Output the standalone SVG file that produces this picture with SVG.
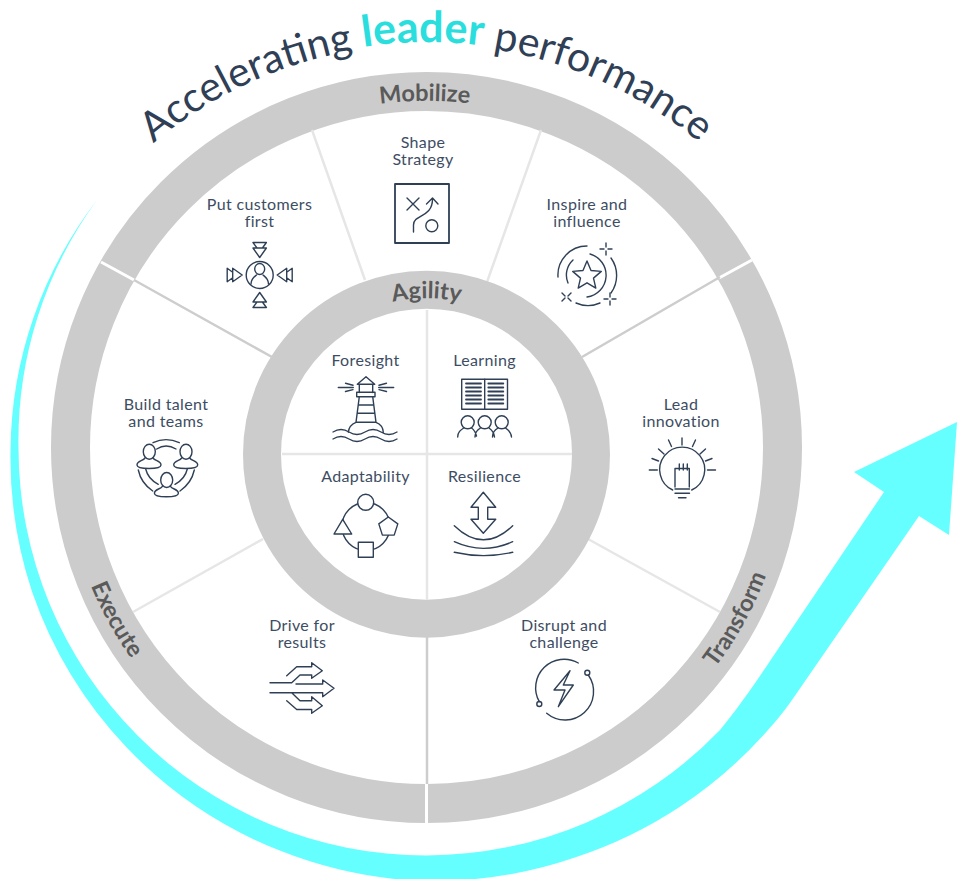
<svg xmlns="http://www.w3.org/2000/svg" xmlns:xlink="http://www.w3.org/1999/xlink" width="968" height="879" viewBox="0 0 968 879">
<style>
text{font-family:"Lato","Liberation Sans",sans-serif}
.l{font-size:16px;fill:#3d4d63;text-anchor:middle;letter-spacing:.35px}
.r{font-size:23.500px;font-weight:700;fill:#5a5a5a;text-anchor:middle}
.i{fill:none;stroke:#2f4056;stroke-width:1.4;stroke-linecap:round;stroke-linejoin:round}
.w{fill:#fff}
.sp1{stroke:#e6e6e6;stroke-width:2.5;fill:none}
.sp2{stroke:#cdcdcd;stroke-width:2.5;fill:none}
.gap{stroke:#fff;stroke-width:3;fill:none}
</style>
<defs>
<path id="pT" d="M147.500 148.500A426 426 0 0 1 753.300 196.200"/>
<path id="pM" d="M253 147.400A346.500 346.500 0 0 1 600 147.400"/>
<path id="pA" d="M348.500 319.100A156 156 0 0 1 504.500 319.100"/>
<path id="pTr" d="M613.500 758.600A363 363 0 0 0 789.400 441.200"/>
<path id="pE" d="M63.600 441.200A363 363 0 0 0 239.500 758.600"/>
<path id="ch" d="M253 242.500h13.400l-4 5.500h4l-6.700 9.500-6.700-9.500h4zM257 248h5.400"/>
</defs>
<rect width="968" height="879" fill="#fff"/>
<g id="arrow"><path fill="#66ffff" d="M97 200A416 416 0 0 0 10.500 450A425 425 0 0 0 31.800 591A430 430 0 0 0 126.700 747.500A430 430 0 0 0 279.800 850.600A436 436 0 0 0 405 880A436 436 0 0 0 575.600 857.200A440 440 0 0 0 768 730C776 721 785 710 792 700L919 516L949 535L957 422L854 472L884 492L772 658C756 682 738 708 720 730A408 408 0 0 1 426.500 855.500A408 408 0 0 1 18.500 447.500A408 408 0 0 1 97 200Z"/></g>
<g id="title"><text font-size="41" fill="#2f4056"><textPath xlink:href="#pT" href="#pT" startOffset="8">Accelerating <tspan dy="-2" font-size="43" font-weight="700" fill="#2bdede">leader</tspan><tspan dy="2"> performance</tspan></textPath></text></g>
<g id="outer-ring"><circle cx="426.500" cy="447.500" r="356" fill="none" stroke="#cccccc" stroke-width="39"/></g>
<g id="connectors">
<path class="gap" d="M101 262L134 280M752 260L719 278M426.500 784V823"/>
<path class="sp1" d="M312 130L365 280M541 130L487 282M720 612L588 539M133 612L263 539"/>
<path class="sp2" d="M720 277L582 357M134 280L272 357M427 637V784"/>
</g>
<g id="inner-ring">
<circle cx="426.500" cy="454.200" r="164.500" fill="none" stroke="#cccccc" stroke-width="38"/>
<path class="sp1" d="M427 310V600M282 454H572" stroke="#e0e0e0"/>
</g>
<g id="mobilize"><text class="r"><textPath xlink:href="#pM" href="#pM" startOffset="49.500%">Mobilize</textPath></text></g>
<g id="agility"><text class="r"><textPath xlink:href="#pA" href="#pA" startOffset="50%">Agility</textPath></text></g>
<g id="transform"><text class="r"><textPath xlink:href="#pTr" href="#pTr" startOffset="50%">Transform</textPath></text></g>
<g id="execute"><text class="r"><textPath xlink:href="#pE" href="#pE" startOffset="50%">Execute</textPath></text></g>

<g id="shape-strategy">
<text class="l" x="423" y="148">Shape</text><text class="l" x="423" y="165">Strategy</text>
<g class="i"><rect x="395" y="184" width="54" height="59" stroke-width="1.800"/><path d="M407 198l12 12M419 198l-12 12M413.500 232V225C413.500 214 432.500 218 432.500 199M426.500 204L432.500 198L438 204"/><circle cx="431.800" cy="225.700" r="6"/></g>
</g>
<g id="put-customers-first">
<text class="l" x="259.500" y="210">Put customers</text><text class="l" x="259.500" y="227">first</text>
<g class="i"><circle cx="259.700" cy="275" r="13.500"/><ellipse cx="259.700" cy="269" rx="5" ry="5.500"/><path d="M251 284c0-5 3-7 5.500-9M268.500 284c0-5-3-7-5.500-9"/>
<use href="#ch" xlink:href="#ch"/><use href="#ch" xlink:href="#ch" transform="rotate(90 259.700 275)"/><use href="#ch" xlink:href="#ch" transform="rotate(180 259.700 275)"/><use href="#ch" xlink:href="#ch" transform="rotate(270 259.700 275)"/></g>
</g>
<g id="inspire-and-influence">
<text class="l" x="587" y="210">Inspire and</text><text class="l" x="587" y="227">influence</text>
<g class="i"><path d="M587 246A29 29 0 0 0 558 277M573 260A20.500 20.500 0 0 0 568 283M590 254A22 22 0 0 1 587 297M611 258A30 30 0 0 1 611 293M576 303A30 30 0 0 0 600 303"/>
<path d="M587 261L591 270.500L601.300 271.400L593.500 278.100L595.800 288.100L587 282.800L578.200 288.100L580.500 278.100L572.700 271.400L583 270.500Z"/>
<path d="M606 243v4M606 251v4M600 249h4M608 249h4M610 293v4M610 301v4M604 299h4M612 299h4M562 293l3 3M562 301l3-3M571 293l-3 3M571 301l-3-3"/></g>
</g>
<g id="lead-innovation">
<text class="l" x="681" y="410">Lead</text><text class="l" x="681" y="427">innovation</text>
<g class="i"><path d="M672.700 490A22.500 22.500 0 1 1 691.700 490M675 487V468.500H689.300V487M679.300 464v6M683.300 464v6M687.300 464v6M675 489h14.500M675 493.300h14.500M678.500 497.700h7.500"/>
<path d="M682 438v7M649.300 470h8M707.500 470h8M668.500 440l3 6.500M695.500 440l-3 6.500M658.500 449l5.500 5M705.500 449l-5.500 5M652 458.500l6.500 2.500M712 458.500l-6.500 2.500"/></g>
</g>
<g id="disrupt-and-challenge">
<text class="l" x="564" y="631">Disrupt and</text><text class="l" x="564" y="648">challenge</text>
<g class="i"><path d="M539.300 701.700A28.500 28.500 0 0 1 578.300 663M588.300 675A28.500 28.500 0 0 1 546.700 713.300"/><circle cx="587.300" cy="672.700" r="2.500"/><circle cx="539.300" cy="704" r="2.500"/><path d="M570 670.700L554 690H565L558.300 706.700L573.300 685H563.300Z"/></g>
</g>
<g id="drive-for-results">
<text class="l" x="302" y="631">Drive for</text><text class="l" x="302" y="648">results</text>
<g class="i"><path d="M286.700 675.700L296.700 666.700H311.700V662.700L322.300 670.700L311.700 678.300V675H300L291.700 682.700H270M296 684H322.700V680L334 688.300L322.700 696.700V692.700H270M291.700 692.700L300 700.700H311.700V696.700L322.300 705.700L311.700 713.300V709.500H296.700L286.700 700.700"/></g>
</g>
<g id="build-talent-and-teams">
<text class="l" x="166" y="410">Build talent</text><text class="l" x="166" y="427">and teams</text>
<g class="i"><path d="M153 442.700Q166 436.500 179.300 442.700M156.700 449Q166 443 176 449M138.300 470Q141 483 152.700 491M145.700 469Q148 479 158.300 484.300M194.300 470Q191.500 483 180 491M187.300 469Q185 479 175 484.300"/>
<ellipse cx="149.300" cy="451.700" rx="6" ry="7.500"/><path d="M145 458c-2 3-8 3-8 7c0 2.500 4 3.500 12 3.500s12-1 12-3.500c0-4-6-4-8-7"/>
<ellipse cx="186" cy="451.700" rx="6" ry="7.500"/><path d="M181.700 458c-2 3-8 3-8 7c0 2.500 4 3.500 12 3.500s12-1 12-3.500c0-4-6-4-8-7"/>
<ellipse cx="166.700" cy="480" rx="6" ry="7.500"/><path d="M162.400 486.300c-2 3-8 3-8 7c0 2.500 4 3.500 12 3.500s12-1 12-3.500c0-4-6-4-8-7"/></g>
</g>
<g id="foresight">
<text class="l" x="365.500" y="366">Foresight</text>
<g class="i"><path d="M357.300 384.300L366 376.700L374.700 384.300ZM359.300 384.300V392.500M372.700 384.300V392.500M356.700 392.300H375V396.700H356.700ZM359.300 396.700L356 422.300H376L372.700 396.700M358.300 405H373.700M357.300 413.300H374.700M348.300 432.300Q349 425 356 422.300M383.300 432.300Q383 425 376 422.300M338.300 387.500H353.300M345.500 383.300L353 385.300M345.500 391.500L353 389.600M378.700 387.500H393.700M386.500 383.300L379 385.300M386.500 391.500L379 389.600M333 432q8-5 16 0t16 0t16 0t16 0M333 439q8-5 16 0t16 0t16 0t16 0"/></g>
</g>
<g id="learning">
<text class="l" x="484.500" y="366">Learning</text>
<g class="i"><rect x="461.700" y="379.300" width="45.800" height="30"/><path d="M484.700 379.300V409.300"/><path stroke-width="1.800" d="M466 383.500H481M466 387.500H481M466 391.500H481M466 395.500H481M466 399.500H481M466 403.500H481M488.300 383.500H503.300M488.300 387.500H503.300M488.300 391.500H503.300M488.300 395.500H503.300M488.300 399.500H503.300M488.300 403.500H503.300"/>
<circle cx="467.700" cy="422.300" r="6.500"/><circle cx="484.700" cy="422.300" r="6.500"/><circle cx="501.700" cy="422.300" r="6.500"/>
<path d="M457.700 437c0-5 3-7 6-9M471.500 428c3 2 4 4 5 8M475 437c0-5 2-7 5.500-9M489 428c3 2 5 4 5.500 9M492.500 437c0-5 2-7 5.500-9M505.500 428c3 2 5.500 4 6 9"/></g>
</g>
<g id="adaptability">
<text class="l" x="365.500" y="482">Adaptability</text>
<g class="i"><circle cx="366" cy="526.500" r="24"/><circle class="w" cx="365.700" cy="502.300" r="8"/><path class="w" d="M388.300 517L397.800 523.900L394.200 535.100L382.400 535.100L378.800 523.900Z"/><path class="w" d="M342.700 519.300L334 534H351.700Z"/><rect class="w" x="358.300" y="542.300" width="15" height="15"/></g>
</g>
<g id="resilience">
<text class="l" x="484.500" y="482">Resilience</text>
<g class="i"><path d="M483.300 492.300L471 507.300H478.300V519.300H471L483.300 533.300L495.700 519.300H487.700V507.300H495.700Z"/><path d="M454.300 525.700Q483.500 554 512.700 525.700M454.300 541.700Q483.500 555 512.700 541.700M454.300 552.300Q483.500 559 512.700 552.300"/></g>
</g>
</svg>
